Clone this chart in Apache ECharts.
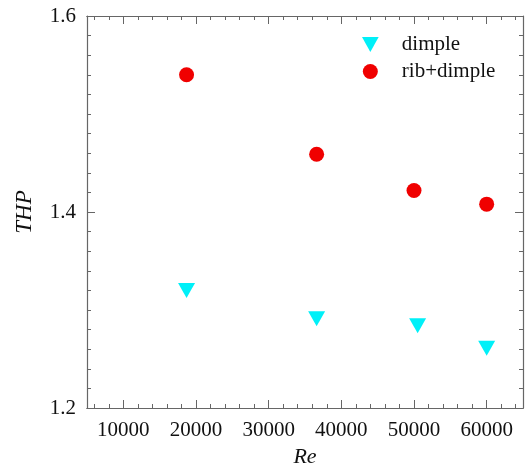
<!DOCTYPE html>
<html>
<head>
<meta charset="utf-8">
<script src="https://cdn.jsdelivr.net/npm/echarts@6/dist/echarts.min.js"></script>
<style>
html, body { margin: 0; padding: 0; background: #fff; }
#chart { width: 527px; height: 466px; }
</style>
</head>
<body>
<div id="chart"></div>
<script>
// data
var reDimple = [18700, 36600, 50500, 60000];
var thpDimple = [1.320, 1.291, 1.284, 1.261];
var reRib = [18700, 36600, 50000, 60000];
var thpRib = [1.540, 1.459, 1.422, 1.408];
var xMajor = [10000, 20000, 30000, 40000, 50000, 60000];
var xMinor = [6000, 8000, 12000, 14000, 16000, 18000, 22000, 24000, 26000, 28000,
    32000, 34000, 36000, 38000, 42000, 44000, 46000, 48000, 52000, 54000, 56000, 58000,
    62000, 64000];

var chart = echarts.init(document.getElementById('chart'));

var pairs = function (xs, ys) {
    var out = [];
    for (var i = 0; i < xs.length; i++) {
        out.push([xs[i], ys[i]]);
    }
    return out;
};

var axisColor = '#666';
var font = 'Liberation Serif';
var downTriangle = 'path://M0,0L2,0L1,1.8Z';

// one x axis, used several times for the box ticks
var xAxisCopy = function (pos, ticks, len, labels) {
    return {
        type: 'value',
        position: pos,
        min: 5000,
        max: 65000,
        axisLine: { show: true, onZero: false, lineStyle: { color: axisColor, width: 1.2 } },
        axisTick: { show: true, inside: true, length: len, customValues: ticks, lineStyle: { color: axisColor } },
        axisLabel: labels ? {
            show: true, customValues: xMajor, color: '#111', fontFamily: font, fontSize: 21, margin: 12,
            formatter: function (v) { return String(v); }
        } : { show: false },
        splitLine: { show: false }
    };
};

var yAxisCopy = function (pos, labels) {
    return {
        type: 'value',
        position: pos,
        min: 1.2,
        max: 1.6,
        interval: 0.2,
        axisLine: { show: true, onZero: false, lineStyle: { color: axisColor, width: 1.2 } },
        axisTick: { show: true, inside: true, length: 8, lineStyle: { color: axisColor } },
        minorTick: { show: true, splitNumber: 10, length: 4, lineStyle: { color: axisColor } },
        axisLabel: labels ? {
            show: true, color: '#111', fontFamily: font, fontSize: 21, margin: 11,
            formatter: function (v) { return v.toFixed(1); }
        } : { show: false },
        splitLine: { show: false }
    };
};

var xMain = xAxisCopy('bottom', xMajor, 8, true);
xMain.name = 'Re';
xMain.nameLocation = 'middle';
xMain.nameGap = 35;
xMain.nameTextStyle = { fontFamily: font, fontStyle: 'italic', fontSize: 22, color: '#111' };

var yMain = yAxisCopy('left', true);
yMain.name = 'THP';
yMain.nameLocation = 'middle';
yMain.nameGap = 51;
yMain.nameTextStyle = { fontFamily: font, fontStyle: 'italic', fontSize: 23, color: '#111' };

var option = {
    animation: false,
    grid: { left: 87, right: 4, top: 16, bottom: 58, containLabel: false, outerBoundsMode: 'none' },
    legend: {
        orient: 'vertical',
        left: 357,
        top: 29,
        itemWidth: 17,
        itemHeight: 15,
        itemGap: 6,
        textStyle: { fontFamily: font, fontSize: 21, color: '#111', padding: [0, 0, 0, 18] },
        data: [
            { name: 'dimple', icon: downTriangle },
            { name: 'rib+dimple', icon: 'circle' }
        ]
    },
    xAxis: [
        xMain,
        xAxisCopy('bottom', xMinor, 4, false),
        xAxisCopy('top', xMajor, 8, false),
        xAxisCopy('top', xMinor, 4, false)
    ],
    yAxis: [
        yMain,
        yAxisCopy('right', false)
    ],
    series: [
        {
            name: 'dimple',
            type: 'scatter',
            symbol: downTriangle,
            symbolSize: [17, 15],
            itemStyle: { color: '#00f0f8', opacity: 1 },
            data: pairs(reDimple, thpDimple)
        },
        {
            name: 'rib+dimple',
            type: 'scatter',
            symbol: 'circle',
            symbolSize: 15,
            itemStyle: { color: '#f00000', opacity: 1 },
            data: pairs(reRib, thpRib)
        }
    ]
};

chart.setOption(option);
</script>
</body>
</html>
